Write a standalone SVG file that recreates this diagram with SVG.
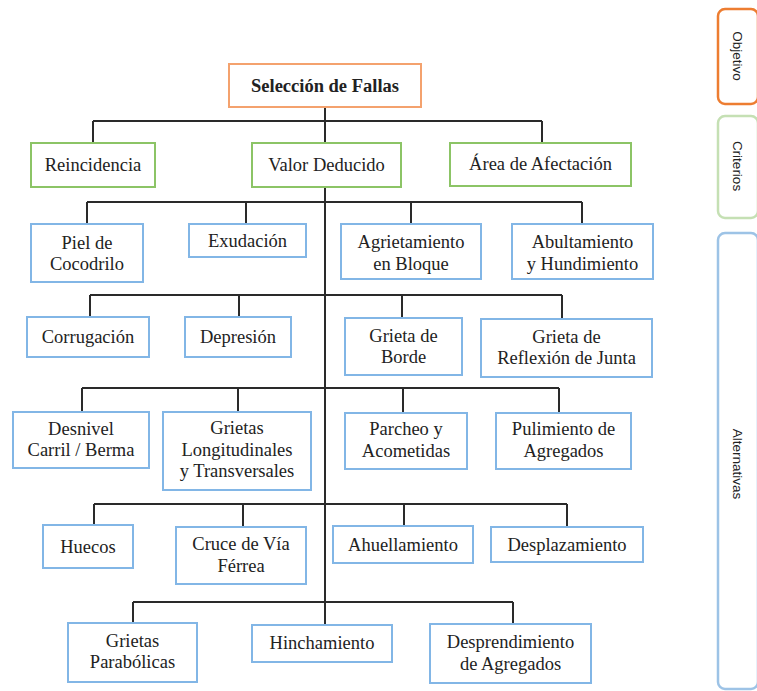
<svg xmlns="http://www.w3.org/2000/svg" width="757" height="691" viewBox="0 0 757 691">
<style>
  .bg{fill:#ffffff}
  .n rect{fill:#ffffff;stroke-width:2}
  .obj rect{stroke:#F4A26E}
  .cri rect{stroke:#8CC466}
  .alt rect{stroke:#82B6E6}
  .n text{font-family:"Liberation Serif","Times New Roman",serif;font-size:18.5px;fill:#222;text-anchor:middle}
  .n text.b{font-weight:bold}
  .c{fill:none;stroke:#2a2a2a;stroke-width:2}
  .side rect{fill:#ffffff;stroke-width:2.5}
  .side text{font-family:"Liberation Sans",Arial,sans-serif;font-size:13.5px;fill:#222;text-anchor:middle;dominant-baseline:central}
</style>
<rect class="bg" x="0" y="0" width="757" height="691"/>

<g id="connectors" class="c">
  <path d="M325 107V143 M325 187V625"/>
  <path d="M93 121H542 M93 121V143 M542 121V143"/>
  <path d="M87 202H582 M87 202V224 M246 202V224 M411 202V224 M582 202V224"/>
  <path d="M90 295H562 M90 295V317 M239 295V317 M402 295V318 M562 295V319"/>
  <path d="M82 388H559 M82 388V412 M238 388V412 M403 388V413 M559 388V413"/>
  <path d="M94 504H567 M94 504V525 M243 504V527 M404 504V526 M567 504V527"/>
  <path d="M133 602H513 M133 602V623 M513 602V624"/>
</g>

<g id="seleccion" class="n obj"><rect x="229" y="64" width="192" height="43"/><text class="b" x="325" y="92">Selección de Fallas</text></g>

<g id="reincidencia" class="n cri"><rect x="31" y="143" width="124" height="44"/><text x="93" y="171">Reincidencia</text></g>
<g id="valor-deducido" class="n cri"><rect x="252" y="143" width="149" height="44"/><text x="326.5" y="171">Valor Deducido</text></g>
<g id="area-afectacion" class="n cri"><rect x="450" y="143" width="181" height="43"/><text x="540.5" y="170">Área de Afectación</text></g>

<g id="piel-cocodrilo" class="n alt"><rect x="31" y="224" width="112" height="58"/><text x="87" y="249">Piel de</text><text x="87" y="270">Cocodrilo</text></g>
<g id="exudacion" class="n alt"><rect x="189" y="224" width="117" height="33"/><text x="247.5" y="247">Exudación</text></g>
<g id="agrietamiento-bloque" class="n alt"><rect x="341" y="224" width="140" height="55"/><text x="411" y="248">Agrietamiento</text><text x="411" y="270">en Bloque</text></g>
<g id="abultamiento" class="n alt"><rect x="512" y="224" width="141" height="55"/><text x="582.5" y="248">Abultamiento</text><text x="582.5" y="270">y Hundimiento</text></g>

<g id="corrugacion" class="n alt"><rect x="27" y="317" width="122" height="40"/><text x="88" y="343">Corrugación</text></g>
<g id="depresion" class="n alt"><rect x="185" y="317" width="106" height="40"/><text x="238" y="343">Depresión</text></g>
<g id="grieta-borde" class="n alt"><rect x="345" y="318" width="117" height="57"/><text x="403.5" y="342">Grieta de</text><text x="403.5" y="363">Borde</text></g>
<g id="grieta-reflexion" class="n alt"><rect x="481" y="319" width="171" height="58"/><text x="566.5" y="343">Grieta de</text><text x="566.5" y="364">Reflexión de Junta</text></g>

<g id="desnivel" class="n alt"><rect x="13" y="412" width="136" height="56"/><text x="81" y="435">Desnivel</text><text x="81" y="456">Carril / Berma</text></g>
<g id="grietas-long" class="n alt"><rect x="163" y="412" width="148" height="78"/><text x="237" y="434">Grietas</text><text x="237" y="456">Longitudinales</text><text x="237" y="477">y Transversales</text></g>
<g id="parcheo" class="n alt"><rect x="345" y="413" width="122" height="56"/><text x="406" y="435">Parcheo y</text><text x="406" y="457">Acometidas</text></g>
<g id="pulimiento" class="n alt"><rect x="496" y="413" width="135" height="56"/><text x="563.5" y="435">Pulimiento de</text><text x="563.5" y="457">Agregados</text></g>

<g id="huecos" class="n alt"><rect x="43" y="525" width="90" height="43"/><text x="88" y="553">Huecos</text></g>
<g id="cruce-via" class="n alt"><rect x="176" y="527" width="130" height="57"/><text x="241" y="550">Cruce de Vía</text><text x="241" y="572">Férrea</text></g>
<g id="ahuellamiento" class="n alt"><rect x="333" y="526" width="140" height="37"/><text x="403" y="551">Ahuellamiento</text></g>
<g id="desplazamiento" class="n alt"><rect x="491" y="527" width="152" height="35"/><text x="567" y="551">Desplazamiento</text></g>

<g id="grietas-parabolicas" class="n alt"><rect x="68" y="623" width="129" height="59"/><text x="132.5" y="647">Grietas</text><text x="132.5" y="668">Parabólicas</text></g>
<g id="hinchamiento" class="n alt"><rect x="252" y="625" width="140" height="37"/><text x="322" y="649">Hinchamiento</text></g>
<g id="desprendimiento" class="n alt"><rect x="430" y="624" width="161" height="59"/><text x="510.5" y="648">Desprendimiento</text><text x="510.5" y="670">de Agregados</text></g>

<g id="side-objetivo" class="side"><rect x="718" y="9" width="40" height="95" rx="7" stroke="#ED7D31"/><text transform="translate(737,56) rotate(90)">Objetivo</text></g>
<g id="side-criterios" class="side"><rect x="718" y="116" width="40" height="102" rx="7" stroke="#C5E0B4"/><text transform="translate(737,166) rotate(90)">Criterios</text></g>
<g id="side-alternativas" class="side"><rect x="718" y="233" width="40" height="456" rx="7" stroke="#9DC3E6"/><text transform="translate(737,464) rotate(90)">Alternativas</text></g>
</svg>
